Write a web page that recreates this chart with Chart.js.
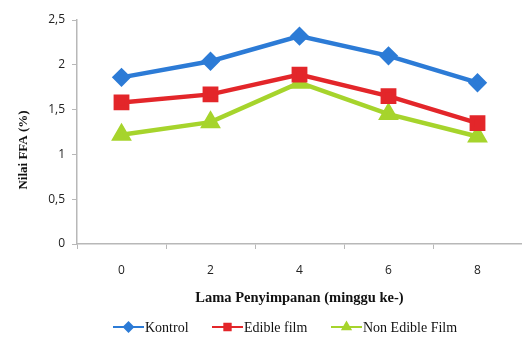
<!DOCTYPE html>
<html>
<head>
<meta charset="utf-8">
<script src="https://cdn.jsdelivr.net/npm/chart.js@4.4.1/dist/chart.umd.min.js"></script>
<style>
  html, body { margin: 0; padding: 0; background: #fff; }
  #wrap { width: 522px; height: 340px; position: relative; }
</style>
</head>
<body>
<div id="wrap"><canvas id="c" width="522" height="340"></canvas></div>
<script>
// Storage week (x) and free fatty acid values (%) per treatment
const weeks = ['0', '2', '4', '6', '8'];
const kontrol = [1.86, 2.04, 2.32, 2.10, 1.80];
const edibleFilm = [1.58, 1.67, 1.89, 1.65, 1.35];
const nonEdibleFilm = [1.22, 1.36, 1.80, 1.45, 1.20];
const yTicks = [0, 0.5, 1, 1.5, 2, 2.5];

const xTitle = 'Lama Penyimpanan (minggu ke-)';
const yTitle = 'Nilai FFA (%)';

const BLUE = '#2c7bd6';
const RED = '#e3262a';
const GREEN = '#a6d42c';

// Axis title on the left and legend row at the bottom
const extras = {
  id: 'extras',
  afterDraw(chart) {
    const ctx = chart.ctx;
    ctx.save();
    // y axis title
    ctx.font = 'bold 13px "Liberation Serif", "Times New Roman", serif';
    ctx.fillStyle = '#111';
    ctx.textAlign = 'center';
    ctx.textBaseline = 'middle';
    ctx.translate(24, 150);
    ctx.rotate(-Math.PI / 2);
    ctx.fillText(yTitle, 0, 0);
    ctx.restore();

    // legend
    ctx.save();
    ctx.font = '14px "Liberation Serif", "Times New Roman", serif';
    ctx.textBaseline = 'middle';
    ctx.textAlign = 'left';
    const y = 327;
    const items = [
      { x: 113, ds: chart.data.datasets[0] },
      { x: 212, ds: chart.data.datasets[1] },
      { x: 331, ds: chart.data.datasets[2] }
    ];
    items.forEach(it => {
      const ds = it.ds;
      ctx.strokeStyle = ds.borderColor;
      ctx.lineWidth = 2;
      ctx.beginPath();
      ctx.moveTo(it.x, y);
      ctx.lineTo(it.x + 31, y);
      ctx.stroke();
      Chart.helpers.drawPoint(ctx, {
        pointStyle: ds.pointStyle,
        radius: 4.5,
        rotation: 0,
        borderWidth: 1
      }, it.x + 15.5, y);
      ctx.fillStyle = ds.pointBackgroundColor;
      ctx.strokeStyle = ds.pointBorderColor;
      ctx.fill();
      ctx.fillStyle = '#111';
      ctx.fillText(ds.label, it.x + 32, y + 1);
    });
    ctx.restore();
  }
};

new Chart(document.getElementById('c'), {
  type: 'line',
  data: {
    labels: weeks,
    datasets: [
      {
        label: 'Kontrol',
        data: kontrol,
        borderColor: BLUE,
        backgroundColor: BLUE,
        pointBackgroundColor: BLUE,
        pointBorderColor: BLUE,
        pointStyle: 'rectRot',
        pointRadius: 6.5,
        borderWidth: 4.5,
        clip: false
      },
      {
        label: 'Edible film',
        data: edibleFilm,
        borderColor: RED,
        backgroundColor: RED,
        pointBackgroundColor: RED,
        pointBorderColor: RED,
        pointStyle: 'rect',
        pointRadius: 8,
        borderWidth: 4.5,
        clip: false
      },
      {
        label: 'Non Edible Film',
        data: nonEdibleFilm,
        borderColor: GREEN,
        backgroundColor: GREEN,
        pointBackgroundColor: GREEN,
        pointBorderColor: GREEN,
        pointStyle: 'triangle',
        pointRadius: 7.5,
        borderWidth: 4.5,
        clip: false
      }
    ]
  },
  options: {
    responsive: false,
    animation: false,
    devicePixelRatio: 1,
    layout: { autoPadding: false, padding: { top: 20, right: 0, bottom: 30, left: 0 } },
    plugins: {
      legend: { display: false },
      tooltip: { enabled: false }
    },
    scales: {
      x: {
        type: 'category',
        offset: true,
        grid: {
          display: true,
          offset: true,
          drawOnChartArea: false,
          drawTicks: true,
          tickLength: 5,
          color: '#b8b8b8'
        },
        border: { display: true, color: '#b8b8b8', width: 1.5 },
        ticks: {
          color: '#222',
          font: { family: '"Open Sans", "Liberation Sans", sans-serif', size: 12 },
          padding: 14
        },
        title: {
          display: true,
          text: xTitle,
          color: '#111',
          font: { family: '"Liberation Serif", "Times New Roman", serif', size: 14.5, weight: 'bold' },
          padding: { top: 0, bottom: 3 }
        },
        afterFit(scale) {
          scale.height = 66;
          scale.paddingRight = 0;
          scale.paddingLeft = 0;
        }
      },
      y: {
        min: 0,
        max: 2.5,
        afterBuildTicks(scale) { scale.ticks = yTicks.map(v => ({ value: v })); },
        grid: {
          display: true,
          drawOnChartArea: false,
          drawTicks: true,
          tickLength: 5,
          color: '#b8b8b8'
        },
        border: { display: true, color: '#b8b8b8', width: 1.5 },
        ticks: {
          color: '#222',
          font: { family: '"Open Sans", "Liberation Sans", sans-serif', size: 12 },
          padding: 7,
          callback: v => String(v).replace('.', ',')
        },
        afterFit(scale) { scale.width = 77; }
      }
    }
  },
  plugins: [extras]
});
</script>
</body>
</html>
